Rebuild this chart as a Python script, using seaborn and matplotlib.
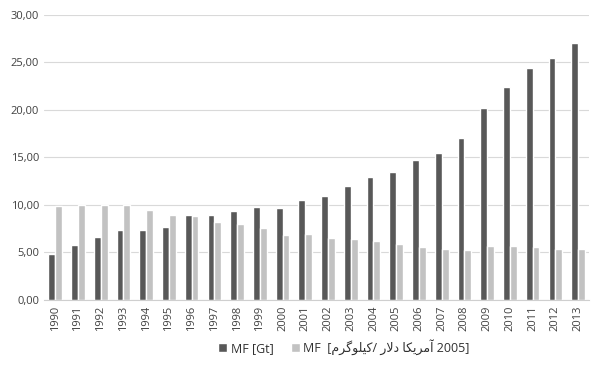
import pandas as pd
import matplotlib.pyplot as plt
import matplotlib.ticker as mticker
import seaborn as sns

sns.set_style('white')
plt.rcParams['font.family'] = ['Open Sans', 'DejaVu Sans']

years = [str(y) for y in range(1990, 2014)]
mf_gt = [4.8, 5.8, 6.6, 7.35, 7.4, 7.7, 8.9, 8.9, 9.4, 9.75, 9.7, 10.55,
         10.9, 12.0, 12.95, 13.45, 14.7, 15.5, 17.0, 20.15, 22.35, 24.35, 25.45, 27.0]
mf_kg = [9.9, 10.0, 10.0, 10.0, 9.45, 8.9, 8.8, 8.15, 7.95, 7.55, 6.8, 6.9,
         6.5, 6.45, 6.25, 5.85, 5.6, 5.35, 5.3, 5.65, 5.65, 5.6, 5.4, 5.35]

# persian label, shaped presentation forms in visual (left to right) order
kilo = '\uFEE1\uFEAE\uFB94\uFEEE\uFEE0\uFBFF\uFB90'
dollar = '\uFEAD\uFEFB\uFEA9'
amrika = '\uFE8E\uFB91\uFBFE\uFEAE\uFEE3\uFE81'
series = ['MF [Gt]', 'MF  [' + kilo + '/ ' + dollar + ' ' + amrika + ' 2005]']

df = pd.DataFrame({
    'year': years * 2,
    'value': mf_gt + mf_kg,
    'series': [series[0]] * len(years) + [series[1]] * len(years),
})

fig = plt.figure(figsize=(5.93, 3.68), dpi=100)
ax = fig.add_axes([0.074, 0.185, 0.920, 0.775])

sns.barplot(data=df, x='year', y='value', hue='series',
            palette=['#585858', '#c2c2c2'], width=0.6,
            saturation=1, ax=ax)

ax.set_ylim(0, 30)
ax.set_yticks(range(0, 31, 5))
ax.yaxis.set_major_formatter(mticker.FuncFormatter(lambda v, p: f'{v:.2f}'.replace('.', ',')))
ax.grid(axis='y', color='#d9d9d9', linewidth=0.8)
ax.set_axisbelow(True)
for s in ['top', 'right', 'left']:
    ax.spines[s].set_visible(False)
ax.spines['bottom'].set_color('#cfcfcf')
ax.set_xlabel('')
ax.set_ylabel('')
ax.tick_params(axis='both', length=0, labelsize=8, colors='#404040')
ax.tick_params(axis='x', rotation=90, pad=4)

ax.legend(loc='lower center', bbox_to_anchor=(0.55, -0.225), ncol=2,
          frameon=False, fontsize=9, handlelength=0.7, handleheight=0.7,
          handletextpad=0.3, columnspacing=1.4, labelcolor='#303030',
          borderpad=0.2)

plt.savefig('out.png', dpi=100)
